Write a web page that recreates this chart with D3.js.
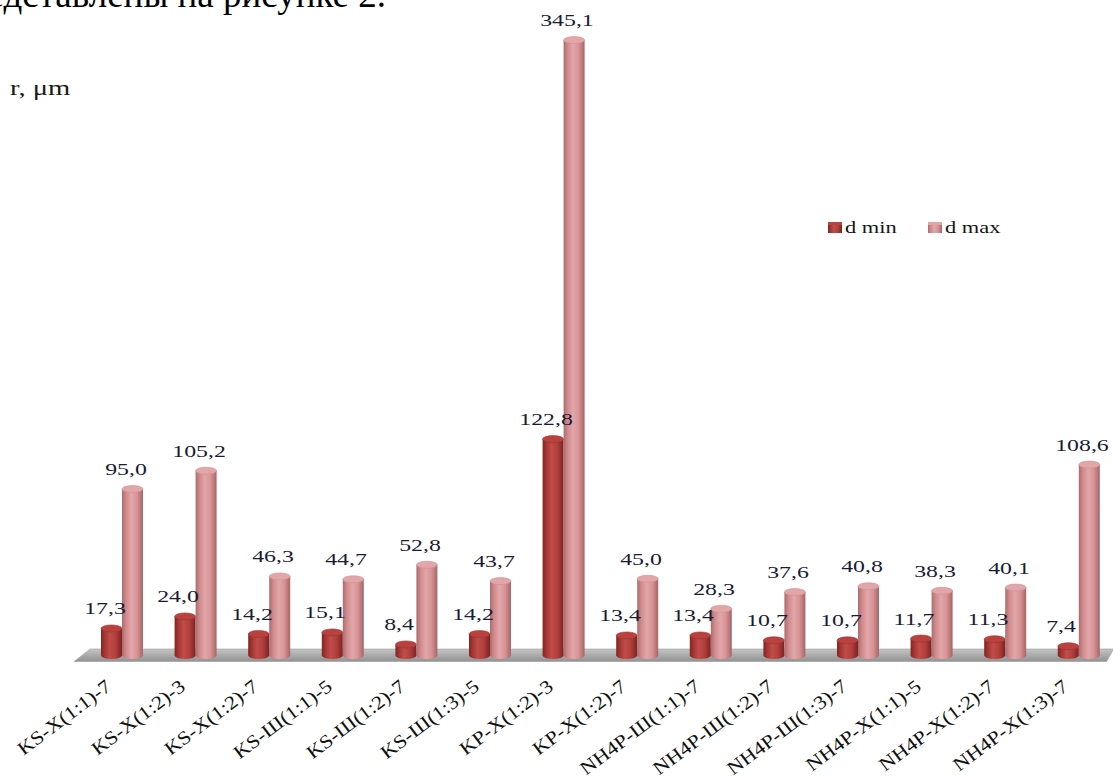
<!DOCTYPE html>
<html>
<head>
<meta charset="utf-8">
<script src="https://cdn.jsdelivr.net/npm/d3@7"></script>
<style>
  html, body { margin: 0; padding: 0; background: #ffffff; overflow: hidden; }
  #wrap { position: relative; width: 1113px; height: 778px; overflow: hidden; }
  svg { display: block; position: absolute; left: 0; top: 0; }
  #overlay { position: absolute; left: 0; top: 0; width: 1113px; height: 778px; }
  .anchor { position: absolute; width: 0; height: 0; transform-origin: 0 0; }
  .anchor span {
    position: absolute; white-space: nowrap; line-height: 1;
    font-family: "Liberation Serif", "Times New Roman", serif;
  }
  .xl span { right: 0; bottom: -4px; font-size: 19px; color: #111; }
  .vl span { left: 0; top: -14px; font-size: 17px; color: #1b1b35; transform: translateX(-50%); }
  .lg span { left: 0; top: -13px; font-size: 16px; color: #141414; }
  .tt span { left: 0; top: -18px; font-size: 22px; color: #1a1a1a; }
</style>
</head>
<body>
<div id="wrap">
<svg id="chart" width="1113" height="778"></svg>
<div id="overlay"></div>
</div>
<script>
// ---- data ----
const categories = [
  "KS-X(1:1)-7", "KS-X(1:2)-3", "KS-X(1:2)-7", "KS-Ш(1:1)-5", "KS-Ш(1:2)-7",
  "KS-Ш(1:3)-5", "KP-X(1:2)-3", "KP-X(1:2)-7", "NH4P-Ш(1:1)-7", "NH4P-Ш(1:2)-7",
  "NH4P-Ш(1:3)-7", "NH4P-X(1:1)-5", "NH4P-X(1:2)-7", "NH4P-X(1:3)-7"
];
const dMin = [17.3, 24.0, 14.2, 15.1, 8.4, 14.2, 122.8, 13.4, 13.4, 10.7, 10.7, 11.7, 11.3, 7.4];
const dMax = [95.0, 105.2, 46.3, 44.7, 52.8, 43.7, 345.1, 45.0, 28.3, 37.6, 40.8, 38.3, 40.1, 108.6];
const seriesNames = ["d min", "d max"];
const axisTitle = "r, μm";
const headerText = "представлены на рисунке 2.";

// ---- setup ----
const svg = d3.select("#chart");
const overlay = d3.select("#overlay");
const SX = 1.4; // horizontal stretch of text in the reference

const x = d3.scaleBand().domain(categories).range([85.2, 1115.6]).padding(0);
const xs = d3.scaleBand().domain(seriesNames).range([-21, 21]).padding(0);
const y = d3.scaleLinear().domain([0, 350]).range([659.5, 31.3]);
const baseY = 655.5;
const ry = 3.5;

const defs = svg.append("defs");
function cylGrad(id, stops) {
  const g = defs.append("linearGradient").attr("id", id)
    .attr("x1", "0%").attr("x2", "100%").attr("y1", "0%").attr("y2", "0%");
  stops.forEach(([o, c]) => g.append("stop").attr("offset", o).attr("stop-color", c));
}
cylGrad("gMin", [["0%", "#7e2624"], ["18%", "#a63633"], ["42%", "#c04d49"], ["70%", "#b23f3c"], ["100%", "#7a2321"]]);
cylGrad("gMax", [["0%", "#ad6b6d"], ["20%", "#d08b8e"], ["45%", "#e2a7a9"], ["72%", "#d69396"], ["100%", "#a76466"]]);
const capFill = { "d min": "#b9423f", "d max": "#e2a6a8" };
const bodyFill = { "d min": "url(#gMin)", "d max": "url(#gMax)" };

const floorG = defs.append("linearGradient").attr("id", "gFloor")
  .attr("x1", "0%").attr("x2", "0%").attr("y1", "0%").attr("y2", "100%");
floorG.append("stop").attr("offset", "0%").attr("stop-color", "#c4c4c4");
floorG.append("stop").attr("offset", "100%").attr("stop-color", "#929292");

// header text (cut at top/left like the reference)
svg.append("text").attr("x", 386).attr("y", 7).attr("text-anchor", "end")
  .attr("font-family", "Liberation Serif, serif")
  .attr("font-size", 37).attr("fill", "#000").text(headerText);

// axis title
overlay.append("div").attr("class", "anchor tt")
  .style("left", "10px").style("top", "95px")
  .style("transform", "scaleX(1.3)")
  .append("span").text(axisTitle);

// floor
const [r0, r1] = x.range();
svg.append("path")
  .attr("d", `M${r0 + 5},649 L${r1 - 2},649 L${r1 - 9},661.5 L${r0 - 11},661.5 Z`)
  .attr("fill", "url(#gFloor)").attr("stroke", "#9a9a9a").attr("stroke-width", 0.6);

// bars
const rows = [];
categories.forEach((c, i) => {
  rows.push({ cat: c, s: "d min", v: dMin[i] });
  rows.push({ cat: c, s: "d max", v: dMax[i] });
});
const barCx = d => x(d.cat) + x.bandwidth() / 2 + xs(d.s) + xs.bandwidth() / 2;

const bars = svg.append("g").selectAll("g.bar").data(rows).join("g").attr("class", "bar");
bars.append("path")
  .attr("d", d => {
    const x0 = x(d.cat) + x.bandwidth() / 2 + xs(d.s);
    const w = xs.bandwidth();
    const x1 = x0 + w;
    const yt = y(d.v);
    return `M${x0},${yt} L${x0},${baseY} A${w / 2},${ry} 0 0 0 ${x1},${baseY} L${x1},${yt} Z`;
  })
  .attr("fill", d => bodyFill[d.s]);
bars.append("ellipse")
  .attr("cx", barCx)
  .attr("cy", d => y(d.v))
  .attr("rx", xs.bandwidth() / 2)
  .attr("ry", ry)
  .attr("fill", d => capFill[d.s])
  .attr("stroke", d => d.s === "d min" ? "#9c3431" : "#cf9194")
  .attr("stroke-width", 0.6);

// value labels (HTML, horizontally stretched)
const fmt = v => v.toFixed(1).replace(".", ",");
overlay.selectAll("div.vl").data(rows).join("div").attr("class", "anchor vl")
  .style("left", d => `${barCx(d) - 7}px`)
  .style("top", d => `${y(d.v) - 14}px`)
  .style("transform", `scaleX(${SX})`)
  .append("span").text(d => fmt(d.v));

// x axis labels: HTML text, rotated by CSS
overlay.selectAll("div.xl").data(categories).join("div")
  .attr("class", "anchor xl")
  .style("left", d => `${x(d) + x.bandwidth() / 2 - 10}px`)
  .style("top", "688px")
  .style("transform", "rotate(-37deg) scaleX(1.15)")
  .append("span").text(d => d);

// legend
const legendX = [828, 928];
seriesNames.forEach((s, i) => {
  const g = svg.append("g").attr("transform", `translate(${legendX[i]},222)`);
  g.append("rect").attr("width", 14).attr("height", 11)
    .attr("fill", s === "d min" ? "url(#gMin)" : "url(#gMax)");
  g.append("rect").attr("width", 14).attr("height", 3).attr("fill", capFill[s]);
});
overlay.selectAll("div.lg").data(seriesNames).join("div").attr("class", "anchor lg")
  .style("left", (d, i) => `${legendX[i] + 17}px`)
  .style("top", "233px")
  .style("transform", `scaleX(${SX})`)
  .append("span").text(d => d);
</script>
</body>
</html>
